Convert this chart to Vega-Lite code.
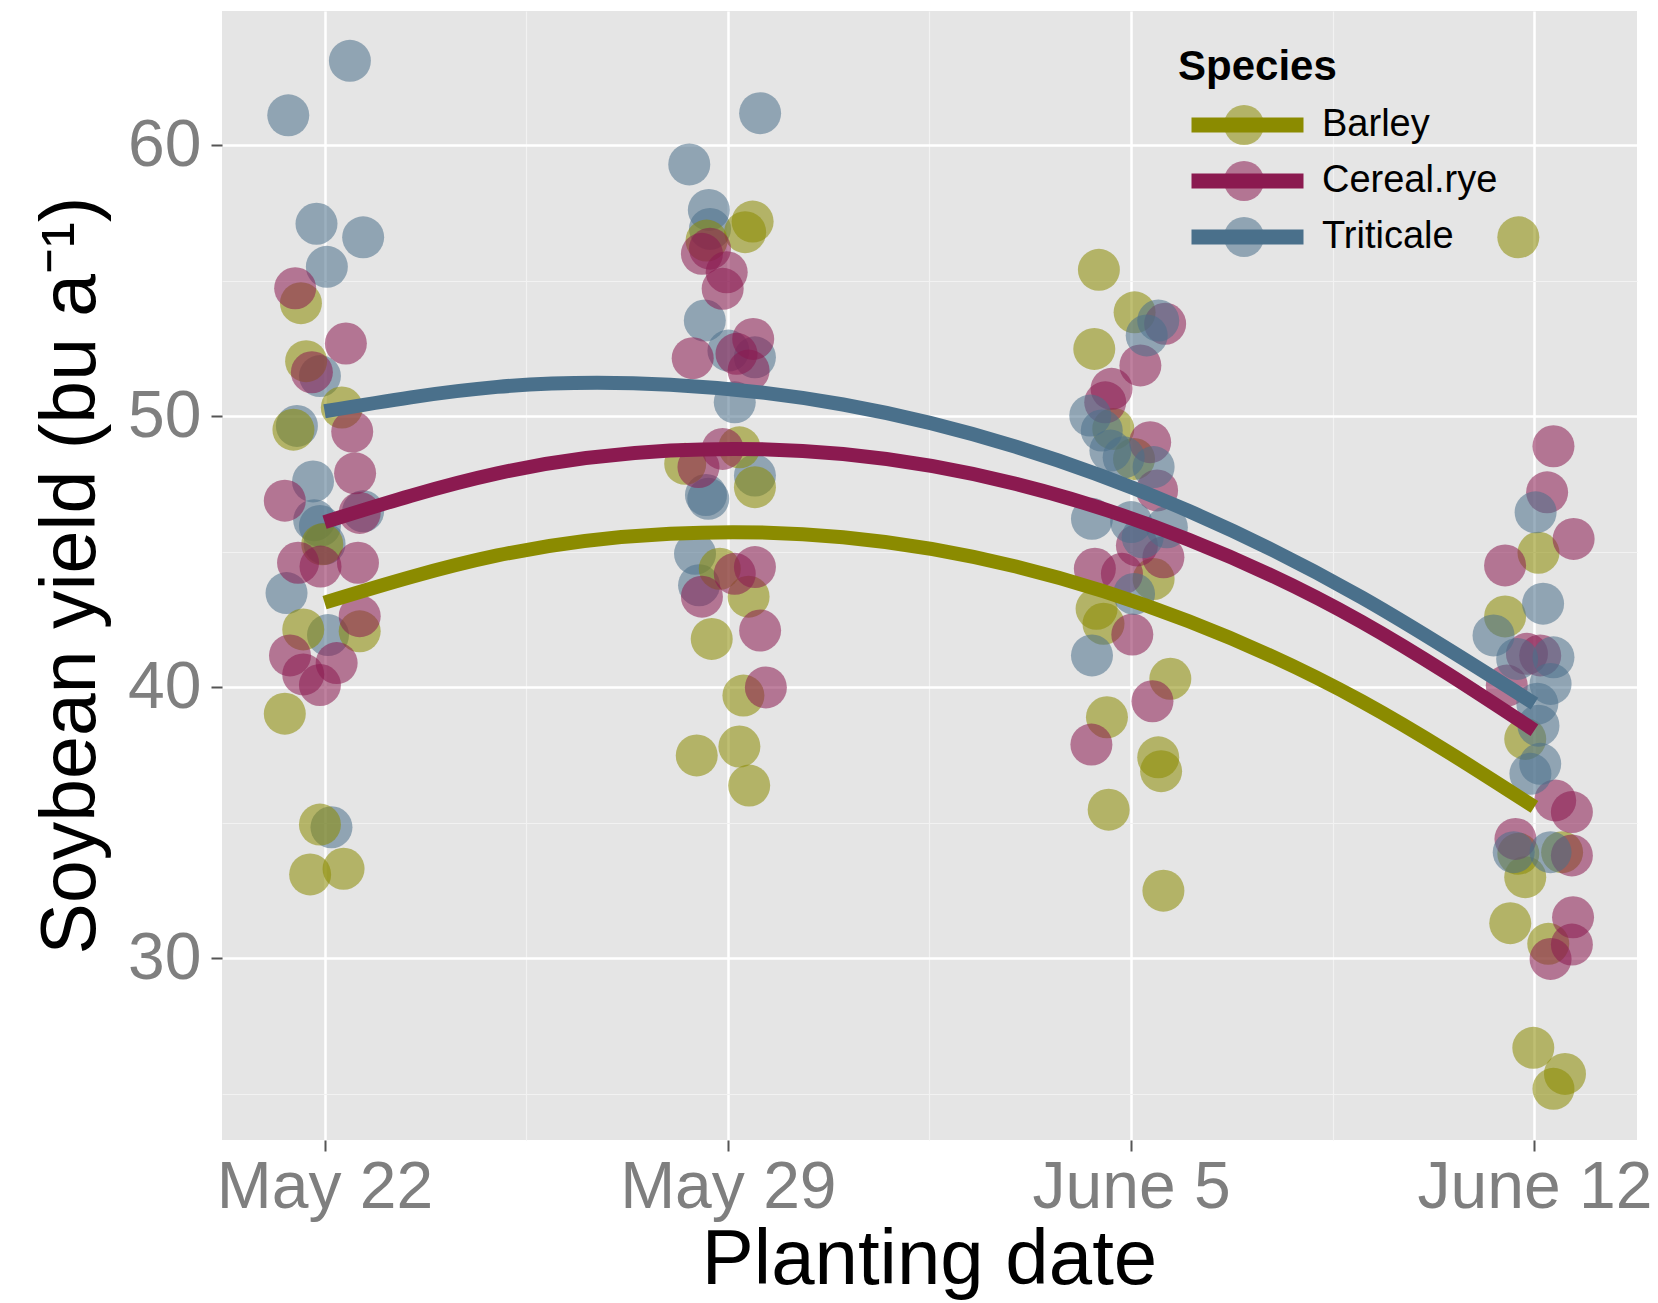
{
  "$schema": "https://vega.github.io/schema/vega-lite/v6.json",
  "width": 1415,
  "height": 1129,
  "autosize": "none",
  "padding": {"left": 222, "top": 11, "right": 21, "bottom": 163},
  "background": "white",
  "config": {
    "font": "Liberation Sans",
    "view": {"fill": "#E5E5E5", "stroke": null}
  },
  "datasets": {
    "pts": [
      {"Species": "Triticale", "day": 0.44, "yield": 63.12},
      {"Species": "Triticale", "day": -0.63, "yield": 61.11},
      {"Species": "Triticale", "day": -0.14, "yield": 57.11},
      {"Species": "Triticale", "day": 0.67, "yield": 56.61},
      {"Species": "Triticale", "day": 0.04, "yield": 55.52},
      {"Species": "Triticale", "day": -0.08, "yield": 51.49},
      {"Species": "Triticale", "day": -0.48, "yield": 49.65},
      {"Species": "Triticale", "day": -0.2, "yield": 47.6},
      {"Species": "Triticale", "day": 0.67, "yield": 46.5},
      {"Species": "Triticale", "day": -0.08, "yield": 45.96},
      {"Species": "Triticale", "day": -0.18, "yield": 46.17},
      {"Species": "Triticale", "day": -0.66, "yield": 43.48},
      {"Species": "Triticale", "day": 0.06, "yield": 41.93},
      {"Species": "Triticale", "day": 0.12, "yield": 34.84},
      {"Species": "Triticale", "day": 0.0, "yield": 45.3},
      {"Species": "Barley", "day": -0.41, "yield": 54.18},
      {"Species": "Barley", "day": -0.32, "yield": 52.04},
      {"Species": "Barley", "day": 0.30, "yield": 50.33},
      {"Species": "Barley", "day": -0.54, "yield": 49.51},
      {"Species": "Barley", "day": -0.04, "yield": 45.28},
      {"Species": "Barley", "day": -0.37, "yield": 42.14},
      {"Species": "Barley", "day": 0.61, "yield": 42.07},
      {"Species": "Barley", "day": -0.69, "yield": 39.03},
      {"Species": "Barley", "day": -0.08, "yield": 34.94},
      {"Species": "Barley", "day": -0.25, "yield": 33.1},
      {"Species": "Barley", "day": 0.33, "yield": 33.31},
      {"Species": "Cereal.rye", "day": -0.51, "yield": 54.73},
      {"Species": "Cereal.rye", "day": 0.37, "yield": 52.69},
      {"Species": "Cereal.rye", "day": -0.22, "yield": 51.63},
      {"Species": "Cereal.rye", "day": 0.48, "yield": 49.44},
      {"Species": "Cereal.rye", "day": 0.53, "yield": 47.9},
      {"Species": "Cereal.rye", "day": -0.69, "yield": 46.89},
      {"Species": "Cereal.rye", "day": 0.61, "yield": 46.44},
      {"Species": "Cereal.rye", "day": -0.46, "yield": 44.6},
      {"Species": "Cereal.rye", "day": -0.07, "yield": 44.46},
      {"Species": "Cereal.rye", "day": 0.58, "yield": 44.6},
      {"Species": "Cereal.rye", "day": 0.61, "yield": 42.63},
      {"Species": "Cereal.rye", "day": -0.6, "yield": 41.18},
      {"Species": "Cereal.rye", "day": 0.21, "yield": 40.9},
      {"Species": "Cereal.rye", "day": -0.37, "yield": 40.48},
      {"Species": "Cereal.rye", "day": -0.08, "yield": 40.09},

      {"Species": "Triticale", "day": 7.56, "yield": 61.19},
      {"Species": "Triticale", "day": 6.33, "yield": 59.3},
      {"Species": "Triticale", "day": 6.67, "yield": 57.62},
      {"Species": "Triticale", "day": 6.69, "yield": 56.92},
      {"Species": "Triticale", "day": 6.60, "yield": 53.54},
      {"Species": "Triticale", "day": 7.01, "yield": 52.43},
      {"Species": "Triticale", "day": 7.47, "yield": 52.18},
      {"Species": "Triticale", "day": 7.12, "yield": 50.52},
      {"Species": "Triticale", "day": 7.47, "yield": 47.82},
      {"Species": "Triticale", "day": 6.66, "yield": 46.96},
      {"Species": "Triticale", "day": 6.62, "yield": 47.1},
      {"Species": "Triticale", "day": 6.43, "yield": 44.93},
      {"Species": "Triticale", "day": 6.5, "yield": 43.77},
      {"Species": "Barley", "day": 7.43, "yield": 57.19},
      {"Species": "Barley", "day": 7.30, "yield": 56.8},
      {"Species": "Barley", "day": 6.63, "yield": 56.49},
      {"Species": "Barley", "day": 7.2, "yield": 48.86},
      {"Species": "Barley", "day": 6.26, "yield": 48.25},
      {"Species": "Barley", "day": 7.47, "yield": 47.39},
      {"Species": "Barley", "day": 6.86, "yield": 44.38},
      {"Species": "Barley", "day": 7.36, "yield": 43.35},
      {"Species": "Barley", "day": 6.72, "yield": 41.79},
      {"Species": "Barley", "day": 7.27, "yield": 39.7},
      {"Species": "Barley", "day": 6.46, "yield": 37.49},
      {"Species": "Barley", "day": 7.2, "yield": 37.82},
      {"Species": "Barley", "day": 7.37, "yield": 36.38},
      {"Species": "Cereal.rye", "day": 6.55, "yield": 56.0},
      {"Species": "Cereal.rye", "day": 6.69, "yield": 56.19},
      {"Species": "Cereal.rye", "day": 6.98, "yield": 55.32},
      {"Species": "Cereal.rye", "day": 6.91, "yield": 54.71},
      {"Species": "Cereal.rye", "day": 6.39, "yield": 52.15},
      {"Species": "Cereal.rye", "day": 7.44, "yield": 52.86},
      {"Species": "Cereal.rye", "day": 7.36, "yield": 51.69},
      {"Species": "Cereal.rye", "day": 7.15, "yield": 52.31},
      {"Species": "Cereal.rye", "day": 6.91, "yield": 48.8},
      {"Species": "Cereal.rye", "day": 6.49, "yield": 48.13},
      {"Species": "Cereal.rye", "day": 7.12, "yield": 44.19},
      {"Species": "Cereal.rye", "day": 7.47, "yield": 44.44},
      {"Species": "Cereal.rye", "day": 6.55, "yield": 43.35},
      {"Species": "Cereal.rye", "day": 7.56, "yield": 42.1},
      {"Species": "Cereal.rye", "day": 7.66, "yield": 40.0},

      {"Species": "Barley", "day": 13.44, "yield": 55.41},
      {"Species": "Barley", "day": 14.06, "yield": 53.84},
      {"Species": "Barley", "day": 13.36, "yield": 52.49},
      {"Species": "Barley", "day": 13.69, "yield": 49.54},
      {"Species": "Barley", "day": 14.05, "yield": 48.43},
      {"Species": "Barley", "day": 14.39, "yield": 44.0},
      {"Species": "Barley", "day": 13.52, "yield": 42.35},
      {"Species": "Barley", "day": 13.4, "yield": 42.9},
      {"Species": "Barley", "day": 14.68, "yield": 40.32},
      {"Species": "Barley", "day": 13.58, "yield": 38.9},
      {"Species": "Barley", "day": 14.47, "yield": 37.42},
      {"Species": "Barley", "day": 14.52, "yield": 36.91},
      {"Species": "Barley", "day": 13.61, "yield": 35.49},
      {"Species": "Barley", "day": 14.56, "yield": 32.5},
      {"Species": "Cereal.rye", "day": 14.59, "yield": 53.42},
      {"Species": "Cereal.rye", "day": 14.16, "yield": 51.88},
      {"Species": "Cereal.rye", "day": 13.66, "yield": 51.02},
      {"Species": "Cereal.rye", "day": 13.55, "yield": 50.52},
      {"Species": "Cereal.rye", "day": 14.33, "yield": 49.05},
      {"Species": "Cereal.rye", "day": 14.45, "yield": 47.27},
      {"Species": "Cereal.rye", "day": 14.1, "yield": 45.24},
      {"Species": "Cereal.rye", "day": 14.56, "yield": 44.8},
      {"Species": "Cereal.rye", "day": 13.37, "yield": 44.38},
      {"Species": "Cereal.rye", "day": 13.84, "yield": 44.19},
      {"Species": "Cereal.rye", "day": 14.02, "yield": 41.95},
      {"Species": "Cereal.rye", "day": 14.37, "yield": 39.49},
      {"Species": "Cereal.rye", "day": 13.31, "yield": 37.89},
      {"Species": "Triticale", "day": 14.47, "yield": 53.54},
      {"Species": "Triticale", "day": 14.27, "yield": 52.99},
      {"Species": "Triticale", "day": 13.29, "yield": 50.03},
      {"Species": "Triticale", "day": 13.49, "yield": 49.48},
      {"Species": "Triticale", "day": 13.64, "yield": 48.74},
      {"Species": "Triticale", "day": 13.87, "yield": 48.49},
      {"Species": "Triticale", "day": 14.39, "yield": 48.13},
      {"Species": "Triticale", "day": 13.32, "yield": 46.22},
      {"Species": "Triticale", "day": 14.0, "yield": 46.1},
      {"Species": "Triticale", "day": 14.62, "yield": 45.91},
      {"Species": "Triticale", "day": 14.2, "yield": 45.54},
      {"Species": "Triticale", "day": 14.05, "yield": 43.45},
      {"Species": "Triticale", "day": 13.32, "yield": 41.18},

      {"Species": "Barley", "day": 20.72, "yield": 56.61},
      {"Species": "Barley", "day": 21.07, "yield": 44.97},
      {"Species": "Barley", "day": 20.49, "yield": 42.62},
      {"Species": "Barley", "day": 20.84, "yield": 38.1},
      {"Species": "Barley", "day": 20.72, "yield": 33.86},
      {"Species": "Barley", "day": 21.48, "yield": 33.92},
      {"Species": "Barley", "day": 20.84, "yield": 33.0},
      {"Species": "Barley", "day": 20.58, "yield": 31.3},
      {"Species": "Barley", "day": 21.24, "yield": 30.54},
      {"Species": "Barley", "day": 20.98, "yield": 26.7},
      {"Species": "Barley", "day": 21.53, "yield": 25.74},
      {"Species": "Barley", "day": 21.33, "yield": 25.19},
      {"Species": "Cereal.rye", "day": 21.33, "yield": 48.9},
      {"Species": "Cereal.rye", "day": 21.22, "yield": 47.2},
      {"Species": "Cereal.rye", "day": 21.68, "yield": 45.48},
      {"Species": "Cereal.rye", "day": 20.49, "yield": 44.5},
      {"Species": "Cereal.rye", "day": 20.87, "yield": 41.24},
      {"Species": "Cereal.rye", "day": 21.1, "yield": 41.18},
      {"Species": "Cereal.rye", "day": 20.52, "yield": 40.07},
      {"Species": "Cereal.rye", "day": 21.36, "yield": 35.83},
      {"Species": "Cereal.rye", "day": 21.65, "yield": 35.4},
      {"Species": "Cereal.rye", "day": 20.67, "yield": 34.41},
      {"Species": "Cereal.rye", "day": 21.65, "yield": 33.8},
      {"Species": "Cereal.rye", "day": 21.67, "yield": 31.52},
      {"Species": "Cereal.rye", "day": 21.65, "yield": 30.51},
      {"Species": "Cereal.rye", "day": 21.28, "yield": 29.98},
      {"Species": "Triticale", "day": 21.02, "yield": 46.46},
      {"Species": "Triticale", "day": 21.15, "yield": 43.09},
      {"Species": "Triticale", "day": 20.29, "yield": 41.92},
      {"Species": "Triticale", "day": 20.7, "yield": 41.05},
      {"Species": "Triticale", "day": 21.33, "yield": 41.11},
      {"Species": "Triticale", "day": 21.28, "yield": 40.13},
      {"Species": "Triticale", "day": 21.05, "yield": 39.4},
      {"Species": "Triticale", "day": 21.07, "yield": 38.59},
      {"Species": "Triticale", "day": 21.1, "yield": 37.18},
      {"Species": "Triticale", "day": 20.93, "yield": 36.81},
      {"Species": "Triticale", "day": 20.64, "yield": 33.92},
      {"Species": "Triticale", "day": 21.28, "yield": 33.92}
    ],
    "fit": [
      {"Species": "Barley", "day": 0, "yield": 43.13},
      {"Species": "Barley", "day": 3, "yield": 44.87},
      {"Species": "Barley", "day": 6, "yield": 45.67},
      {"Species": "Barley", "day": 9, "yield": 45.54},
      {"Species": "Barley", "day": 12, "yield": 44.46},
      {"Species": "Barley", "day": 15, "yield": 42.44},
      {"Species": "Barley", "day": 18, "yield": 39.49},
      {"Species": "Barley", "day": 21, "yield": 35.59},
      {"Species": "Cereal.rye", "day": 0, "yield": 46.1},
      {"Species": "Cereal.rye", "day": 3, "yield": 47.9},
      {"Species": "Cereal.rye", "day": 6, "yield": 48.74},
      {"Species": "Cereal.rye", "day": 9, "yield": 48.61},
      {"Species": "Cereal.rye", "day": 12, "yield": 47.51},
      {"Species": "Cereal.rye", "day": 15, "yield": 45.45},
      {"Species": "Cereal.rye", "day": 18, "yield": 42.42},
      {"Species": "Cereal.rye", "day": 21, "yield": 38.42},
      {"Species": "Triticale", "day": 0, "yield": 50.19},
      {"Species": "Triticale", "day": 3, "yield": 51.09},
      {"Species": "Triticale", "day": 6, "yield": 51.17},
      {"Species": "Triticale", "day": 9, "yield": 50.44},
      {"Species": "Triticale", "day": 12, "yield": 48.88},
      {"Species": "Triticale", "day": 15, "yield": 46.51},
      {"Species": "Triticale", "day": 18, "yield": 43.32},
      {"Species": "Triticale", "day": 21, "yield": 39.4}
    ]
  },
  "encoding": {
    "x": {
      "field": "day",
      "type": "quantitative",
      "scale": {"domain": [-1.78, 22.78], "nice": false, "zero": false},
      "axis": {
        "title": "Planting date",
        "values": [0, 3.5, 7, 10.5, 14, 17.5, 21],
        "labelExpr": "datum.value == 0 ? 'May 22' : datum.value == 7 ? 'May 29' : datum.value == 14 ? 'June 5' : datum.value == 21 ? 'June 12' : ''",
        "labelFontSize": 66,
        "labelColor": "#7F7F7F",
        "labelPadding": 4,
        "labelLimit": 0,
        "labelOverlap": false,
        "labelBound": false,
        "labelFlush": false,
        "domain": false,
        "tickSize": 11,
        "tickWidth": 2,
        "tickColor": {"condition": {"test": "datum.value % 7 === 0", "value": "#555555"}, "value": "transparent"},
        "grid": true,
        "gridColor": {"condition": {"test": "datum.value % 7 === 0", "value": "#FFFFFF"}, "value": "#F2F2F2"},
        "gridWidth": {"condition": {"test": "datum.value % 7 === 0", "value": 2.5}, "value": 1.2},
        "titleFontSize": 78,
        "titleFontWeight": "normal",
        "titleColor": "#000000",
        "titleBaseline": "alphabetic",
        "titleX": 707,
        "titleY": 143
      }
    },
    "y": {
      "field": "yield",
      "type": "quantitative",
      "scale": {"domain": [23.3, 64.96], "nice": false, "zero": false},
      "axis": {
        "title": "Soybean yield (bu a⁻¹)",
        "values": [25, 30, 35, 40, 45, 50, 55, 60],
        "labelExpr": "datum.value % 10 === 0 ? datum.label : ''",
        "labelFontSize": 66,
        "labelColor": "#7F7F7F",
        "labelPadding": 10,
        "domain": false,
        "tickSize": 11,
        "tickWidth": 2,
        "tickColor": {"condition": {"test": "datum.value % 10 === 0", "value": "#555555"}, "value": "transparent"},
        "grid": true,
        "gridColor": {"condition": {"test": "datum.value % 10 === 0", "value": "#FFFFFF"}, "value": "#F2F2F2"},
        "gridWidth": {"condition": {"test": "datum.value % 10 === 0", "value": 2.5}, "value": 1.2},
        "titleFontSize": 77,
        "titleFontWeight": "normal",
        "titleColor": "#000000",
        "titleAngle": -90,
        "titleAlign": "center",
        "titleBaseline": "alphabetic",
        "titleLimit": 0,
        "titleX": -128,
        "titleY": 564
      }
    }
  },
  "layer": [
    {
      "data": {"name": "pts"},
      "mark": {"type": "circle", "size": 1764, "opacity": 0.55},
      "encoding": {
        "color": {
          "field": "Species",
          "type": "nominal",
          "scale": {"domain": ["Barley", "Cereal.rye", "Triticale"], "range": ["#8B8B00", "#8B1A50", "#4A708B"]},
          "legend": {
            "orient": "none",
            "legendX": 956,
            "legendY": 36,
            "padding": 0,
            "title": " ",
            "titleFontSize": 42,
            "titleFontWeight": "bold",
            "titlePadding": 14,
            "labelFontSize": 38,
            "labelExpr": "''",
            "labelOffset": 11,
            "symbolType": "circle",
            "symbolSize": 1600,
            "symbolOpacity": 0.55,
            "symbolStrokeWidth": 0,
            "symbolOffset": 46,
            "clipHeight": 44,
            "rowPadding": 12
          }
        }
      }
    },
    {
      "data": {"name": "fit"},
      "mark": {"type": "line", "strokeWidth": 14, "interpolate": "natural"},
      "encoding": {
        "color": {
          "field": "Species",
          "type": "nominal",
          "scale": {"domain": ["Barley", "Cereal.rye", "Triticale"], "range": ["#8B8B00", "#8B1A50", "#4A708B"]},
          "legend": {
            "orient": "none",
            "legendX": 956,
            "legendY": 36,
            "padding": 0,
            "title": "Species",
            "titleFontSize": 42,
            "titleFontWeight": "bold",
            "titleColor": "#000000",
            "titlePadding": 14,
            "labelFontSize": 38,
            "labelLimit": 0,
            "labelColor": "#000000",
            "labelOffset": 11,
            "symbolType": "stroke",
            "symbolSize": 12544,
            "symbolStrokeWidth": 15,
            "symbolOffset": 6,
            "clipHeight": 44,
            "rowPadding": 12
          }
        }
      }
    }
  ],
  "resolve": {"legend": {"color": "independent"}}
}
